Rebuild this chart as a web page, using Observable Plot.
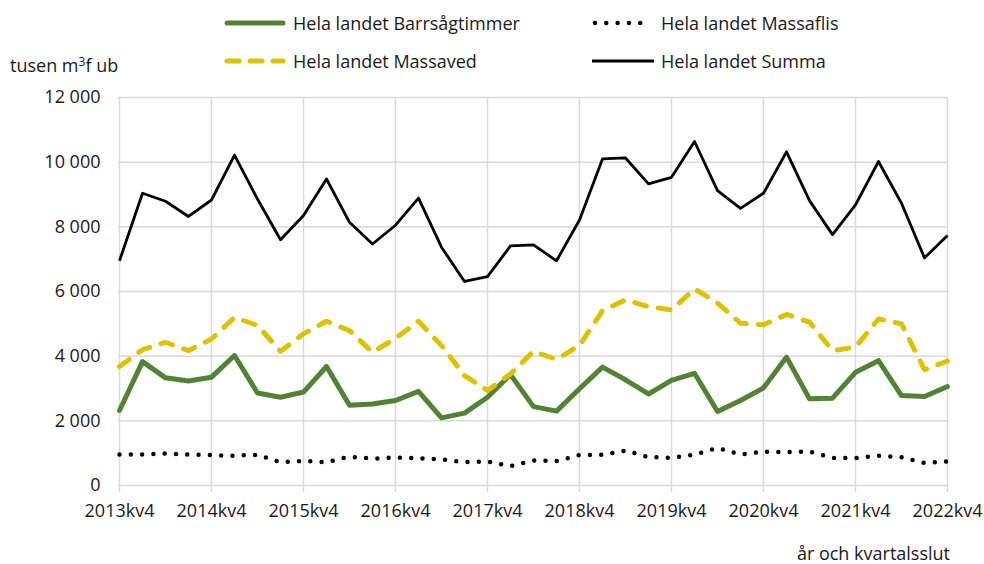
<!DOCTYPE html>
<html>
<head>
<meta charset="utf-8">
<script src="https://cdn.jsdelivr.net/npm/d3@7"></script>
<script src="https://cdn.jsdelivr.net/npm/@observablehq/plot@0.6"></script>
<style>
  html, body { margin: 0; padding: 0; background: #fff; }
  #wrap { position: relative; width: 984px; height: 564px; font-family: "Open Sans", sans-serif; color: #1a1a1a; }
  .lg { position: absolute; display: flex; align-items: center; font-size: 18px; white-space: nowrap; }
  .lg svg { margin-right: 5px; }
  #ylab { position: absolute; left: 10px; top: 53px; font-size: 18px; white-space: nowrap; }
  #xlab { position: absolute; right: 34px; top: 541px; font-size: 18px; white-space: nowrap; }
</style>
</head>
<body>
<div id="wrap">
  <div id="chart"></div>
</div>
<script>
const quarters = [
  "2013kv4",
  "2014kv1","2014kv2","2014kv3","2014kv4",
  "2015kv1","2015kv2","2015kv3","2015kv4",
  "2016kv1","2016kv2","2016kv3","2016kv4",
  "2017kv1","2017kv2","2017kv3","2017kv4",
  "2018kv1","2018kv2","2018kv3","2018kv4",
  "2019kv1","2019kv2","2019kv3","2019kv4",
  "2020kv1","2020kv2","2020kv3","2020kv4",
  "2021kv1","2021kv2","2021kv3","2021kv4",
  "2022kv1","2022kv2","2022kv3","2022kv4"
];
const barrsagtimmer = [
  2320,
  3830, 3330, 3230, 3350,
  4020, 2860, 2730, 2890,
  3680, 2480, 2520, 2630,
  2910, 2090, 2240, 2730,
  3430, 2440, 2300, 2990,
  3660, 3270, 2830, 3250,
  3470, 2290, 2630, 3020,
  3970, 2680, 2700, 3500,
  3860, 2780, 2750, 3060
];
const massaflis = [
  960,
  960, 990, 960, 940,
  920, 950, 720, 760,
  720, 890, 830, 865,
  845, 805, 725, 745,
  600, 770, 755, 940,
  955, 1080, 880, 855,
  955, 1165, 955, 1050,
  1030, 1050, 855, 845,
  925, 875, 700, 745
];
const massaved = [
  3680,
  4200, 4430, 4170, 4530,
  5200, 4950, 4150, 4690,
  5080, 4790, 4120, 4550,
  5080, 4330, 3400, 2940,
  3450, 4150, 3900, 4330,
  5410, 5740, 5530, 5430,
  6080, 5640, 5020, 4970,
  5290, 5050, 4170, 4280,
  5150, 5000, 3580, 3850
];
const summa = [
  6950,
  9040, 8790, 8320, 8830,
  10220, 8860, 7600, 8350,
  9480, 8140, 7470, 8050,
  8890, 7370, 6310, 6460,
  7410, 7440, 6950, 8210,
  10100, 10130, 9330, 9530,
  10640, 9120, 8570, 9040,
  10320, 8810, 7760, 8680,
  10020, 8730, 7040, 7730
];
const seriesNames = [
  "Hela landet Barrsågtimmer",
  "Hela landet Massaflis",
  "Hela landet Massaved",
  "Hela landet Summa"
];
const yTicks = [0, 2000, 4000, 6000, 8000, 10000, 12000];
const xTicks = quarters.filter(q => q.endsWith("kv4"));

const styles = {
  "Hela landet Barrsågtimmer": {stroke: "#548235", strokeWidth: 5, strokeDasharray: null, strokeLinecap: "round"},
  "Hela landet Massaflis": {stroke: "#000000", strokeWidth: 4.5, strokeDasharray: "0,11.3", strokeLinecap: "round"},
  "Hela landet Massaved": {stroke: "#DCC200", strokeWidth: 5, strokeDasharray: "12,12", strokeLinecap: "round"},
  "Hela landet Summa": {stroke: "#000000", strokeWidth: 2.8, strokeDasharray: null, strokeLinecap: "butt"}
};
const values = [barrsagtimmer, massaflis, massaved, summa];

const lineMarks = seriesNames.map((name, i) => {
  const data = quarters.map((q, j) => ({q, v: values[i][j]}));
  const s = styles[name];
  const opts = {x: "q", y: "v", stroke: s.stroke, strokeWidth: s.strokeWidth, strokeLinecap: s.strokeLinecap, strokeLinejoin: "round"};
  if (s.strokeDasharray) opts.strokeDasharray = s.strokeDasharray;
  return Plot.line(data, opts);
});

const chart = Plot.plot({
  width: 984,
  height: 564,
  marginLeft: 118,
  marginRight: 37,
  marginTop: 97,
  marginBottom: 79,
  style: {fontFamily: "Open Sans, sans-serif", fontSize: "18px", color: "#1a1a1a", background: "white", overflow: "visible"},
  x: {type: "point", domain: quarters, padding: 0, label: null},
  y: {domain: [0, 12000], label: null},
  marks: [
    Plot.gridY(yTicks, {stroke: "#d9d9d9", strokeOpacity: 1, strokeWidth: 1.5}),
    Plot.gridX(xTicks, {stroke: "#d9d9d9", strokeOpacity: 1, strokeWidth: 1.5}),
    Plot.axisX({ticks: xTicks, tickSize: 7, tickPadding: 12, stroke: "#d9d9d9", strokeOpacity: 1, strokeWidth: 1.5, fill: "#1a1a1a", label: null}),
    Plot.axisY({ticks: yTicks, tickSize: 0, tickPadding: 18, tickFormat: d => d === 0 ? "0" : d3.format(",")(d).replace(/,/g, " "), fill: "#1a1a1a", label: null}),
    ...lineMarks
  ]
});
document.getElementById("chart").appendChild(chart);

// Legend (HTML, above the plot area)
const wrap = document.getElementById("wrap");
const legendPos = [
  {left: 222, top: 10},
  {left: 590, top: 10},
  {left: 222, top: 48},
  {left: 590, top: 48}
];
seriesNames.forEach((name, i) => {
  const s = styles[name];
  const div = document.createElement("div");
  div.className = "lg";
  div.style.left = legendPos[i].left + "px";
  div.style.top = legendPos[i].top + "px";
  const ns = "http://www.w3.org/2000/svg";
  const sv = document.createElementNS(ns, "svg");
  sv.setAttribute("width", 66);
  sv.setAttribute("height", 26);
  const ln = document.createElementNS(ns, "line");
  const pad = s.strokeLinecap === "round" ? 3 : 0;
  ln.setAttribute("x1", 2 + pad);
  ln.setAttribute("x2", 64 - pad);
  ln.setAttribute("y1", 13);
  ln.setAttribute("y2", 13);
  ln.setAttribute("stroke", s.stroke);
  ln.setAttribute("stroke-width", s.strokeWidth);
  ln.setAttribute("stroke-linecap", s.strokeLinecap);
  if (s.strokeDasharray) ln.setAttribute("stroke-dasharray", name.endsWith("Massaved") ? "12,11" : "0,11.3");
  sv.appendChild(ln);
  div.appendChild(sv);
  const sp = document.createElement("span");
  sp.textContent = name;
  div.appendChild(sp);
  wrap.appendChild(div);
});

const yl = document.createElement("div");
yl.id = "ylab";
yl.innerHTML = "tusen m<sup style=\"font-size:12px;vertical-align:6px;line-height:0\">3</sup>f ub";
wrap.appendChild(yl);

const xl = document.createElement("div");
xl.id = "xlab";
xl.textContent = "år och kvartalsslut";
wrap.appendChild(xl);
</script>
</body>
</html>
